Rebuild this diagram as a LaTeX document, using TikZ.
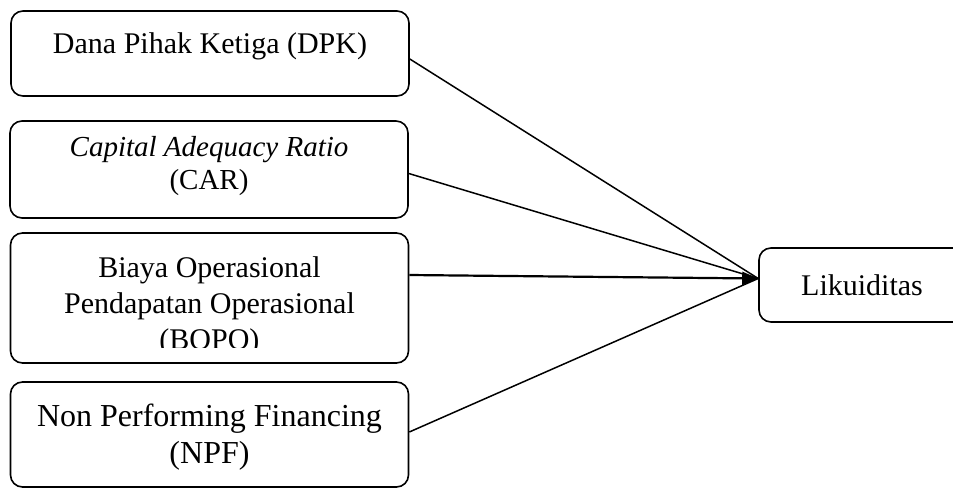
\documentclass[tikz,border=0pt]{standalone}
\usepackage{fontspec}
\setmainfont{Liberation Serif}
\usetikzlibrary{arrows.meta,positioning}
\begin{document}
\begin{tikzpicture}[x=1pt, y=-1pt, >={Triangle[length=16pt,width=13pt]},
    box/.style={draw, line width=1.6pt, rounded corners=12pt, minimum width=398pt, inner sep=0pt},
    boxtext/.style={font=\fontsize{30}{36}\selectfont, align=center, inner sep=0pt, anchor=north}]
    \useasboundingbox (0,0) rectangle (953,488);
    \clip (0,0) rectangle (953,488);
    % variable boxes
    \node[box, minimum height=85pt] (dpk) at (210,53.5) {};
    \node[box, minimum height=97pt] (car) at (209,169.5) {};
    \node[box, minimum height=130pt] (bopo) at (209.5,298) {};
    \node[box, minimum height=105pt] (npf) at (209.5,434.5) {};
    \node[box, minimum width=206pt, minimum height=74pt, font=\fontsize{30}{36}\selectfont] (lik) at (862,285) {Likuiditas};
    % texts
    \node[boxtext] (dpktext) at ([yshift=-22pt]dpk.north) {Dana Pihak Ketiga (DPK)};
    \node[boxtext, font=\fontsize{29}{33}\selectfont] (cartext) at ([yshift=-16pt]car.north) {\textit{Capital Adequacy Ratio}\\(CAR)};
    \begin{scope}
        \clip (0,233) rectangle (420,347);
        \node[boxtext] (bopotext) at ([yshift=-24pt]bopo.north) {Biaya Operasional\\Pendapatan Operasional\\(BOPO)};
    \end{scope}
    \node[boxtext, font=\fontsize{32}{37}\selectfont] (npftext) at ([yshift=-23pt]npf.north) {Non Performing Financing\\(NPF)};
    % connectors
    \coordinate (tip) at ([yshift=6.5pt]lik.west);
    \draw[line width=1.5pt] ([yshift=-5.5pt]dpk.east) -- (tip);
    \draw[line width=1.5pt] ([yshift=-4pt]car.east) -- (tip);
    \draw[line width=1.5pt] ([yshift=2.5pt]npf.east) -- (tip);
    \draw[->, line width=2.2pt] ([yshift=23pt]bopo.east) -- (tip);
\end{tikzpicture}
\end{document}
